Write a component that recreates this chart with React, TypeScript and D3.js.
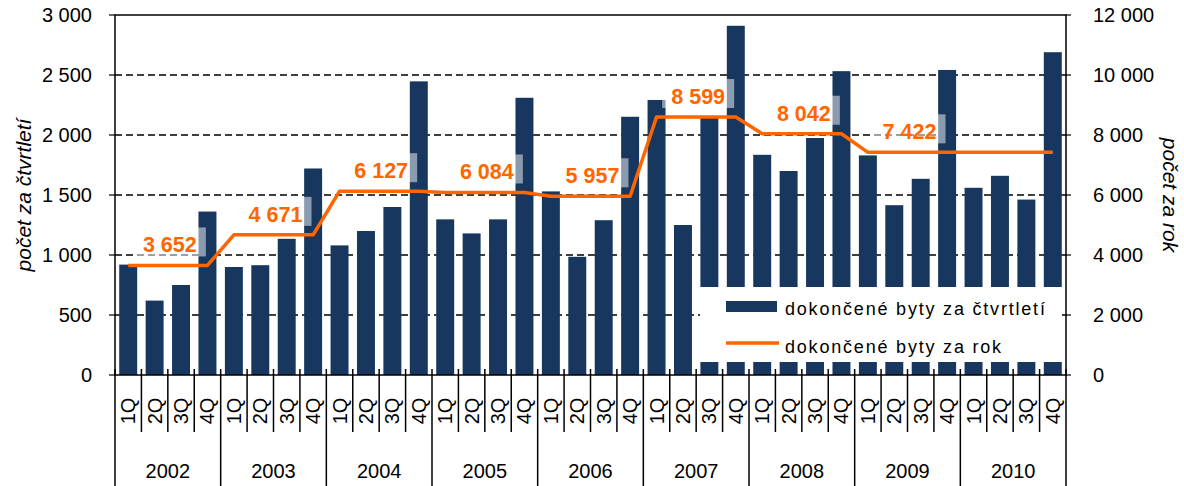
import React from "react";
import * as d3 from "d3";

const years = ["2002", "2003", "2004", "2005", "2006", "2007", "2008", "2009", "2010"];
const quarters = ["1Q", "2Q", "3Q", "4Q"];
const quarterly = [
  920, 620, 750, 1362,
  900, 915, 1135, 1721,
  1080, 1200, 1400, 2447,
  1297, 1180, 1297, 2310,
  1530, 985, 1290, 2152,
  2292, 1250, 2147, 2910,
  1835, 1700, 1975, 2532,
  1830, 1415, 1635, 2542,
  1560, 1660, 1462, 2690,
];
const annual = [3652, 4671, 6127, 6084, 5957, 8599, 8042, 7422, 7422];
const annualLabelShown = [true, true, true, true, true, true, true, true, false];
const leftTicks = [0, 500, 1000, 1500, 2000, 2500, 3000];
const rightTicks = [0, 2000, 4000, 6000, 8000, 10000, 12000];
const seriesNames = ["dokončené byty za čtvrtletí", "dokončené byty za rok"];
const axisTitles = ["počet za čtvrtletí", "počet za rok"];

const W = 1184;
const H = 486;
const L = 115;
const R = 1066;
const T = 15;
const B = 375;
const NAVY = "#17375E";
const ORANGE = "#FF6600";
const FONT = "'Liberation Sans', Arial, sans-serif";

const locale = d3.formatLocale({ decimal: ",", thousands: "\u00a0", grouping: [3], currency: ["", ""] });
const fmt = locale.format(",d");

export default function App() {
  const keys = years.flatMap((y) => quarters.map((q) => `${y}-${q}`));
  const x = d3.scaleBand<string>().domain(keys).range([L, R]).paddingInner(0.32).paddingOuter(0.16);
  const step = x.step();
  const bw = x.bandwidth();
  const yL = d3.scaleLinear().domain([0, 3000]).range([B, T]);
  const yR = d3.scaleLinear().domain([0, 12000]).range([B, T]);

  const linePts: [number, number][] = keys.map((k, i) => [
    (x(k) as number) + bw / 2,
    yR(annual[Math.floor(i / 4)]),
  ]);
  const line = d3.line()(linePts) as string;

  const sepX = (i: number) => L + i * step;

  return (
    <svg width={W} height={H} style={{ position: "absolute", left: 0, top: 0, background: "#fff" }} fontFamily={FONT}>
      {/* gridlines */}
      {leftTicks.slice(1, -1).map((t) => (
        <line key={t} x1={L} x2={R} y1={yL(t)} y2={yL(t)} stroke="#000" strokeWidth={1.6} strokeDasharray="7,4" />
      ))}
      {/* bars */}
      {keys.map((k, i) => (
        <rect key={k} x={x(k)} y={yL(quarterly[i])} width={bw} height={B - yL(quarterly[i])} fill={NAVY} />
      ))}
      {/* annual line */}
      <path d={line} fill="none" stroke={ORANGE} strokeWidth={3.5} strokeLinejoin="round" />
      {/* labels */}
      {years.map((yr, j) => {
        if (!annualLabelShown[j]) return null;
        const cx = sepX(j * 4 + 2) + 2;
        const base = yR(annual[j]) - 13;
        return (
          <g key={yr}>
            <rect x={cx - 36} y={base - 25} width={72} height={29} fill="#fff" fillOpacity={0.5} />
            <text x={cx} y={base} textAnchor="middle" fontSize={21.5} fontWeight="bold" fill={ORANGE}>
              {fmt(annual[j])}
            </text>
          </g>
        );
      })}
      {/* frame */}
      <rect x={L} y={T} width={R - L} height={B - T} fill="none" stroke="#000" strokeWidth={1.5} />
      {/* left ticks */}
      {leftTicks.map((t) => (
        <g key={t}>
          <line x1={L - 6} x2={L} y1={yL(t)} y2={yL(t)} stroke="#000" strokeWidth={1.2} />
          <text x={92} y={yL(t)} dy="0.36em" textAnchor="end" fontSize={20} fill="#000">
            {fmt(t)}
          </text>
        </g>
      ))}
      {/* right ticks */}
      {rightTicks.map((t) => (
        <g key={t}>
          <line x1={R} x2={R + 5} y1={yR(t)} y2={yR(t)} stroke="#000" strokeWidth={1.2} />
          <text x={1093} y={yR(t)} dy="0.36em" textAnchor="start" fontSize={20} fill="#000">
            {fmt(t)}
          </text>
        </g>
      ))}
      {/* category axis separators */}
      {d3.range(keys.length + 1).map((i) => (
        <line
          key={i}
          x1={sepX(i)}
          x2={sepX(i)}
          y1={B - 6}
          y2={i % 4 === 0 ? H : 432}
          stroke="#000"
          strokeWidth={1.5}
        />
      ))}
      {keys.map((k, i) => (
        <text
          key={k}
          transform={`translate(${(x(k) as number) + bw / 2 + 7},411) rotate(-90)`}
          textAnchor="middle"
          fontSize={20}
          fill="#000"
        >
          {quarters[i % 4]}
        </text>
      ))}
      {years.map((yr, j) => (
        <text key={yr} x={sepX(j * 4 + 2)} y={478} textAnchor="middle" fontSize={20} fill="#000">
          {yr}
        </text>
      ))}
      {/* axis titles */}
      <text transform={`translate(31,${(T + B) / 2}) rotate(-90)`} textAnchor="middle" fontSize={21} fontStyle="italic" fill="#000">
        {axisTitles[0]}
      </text>
      <text transform={`translate(1163,${(T + B) / 2}) rotate(90)`} textAnchor="middle" fontSize={21} fontStyle="italic" fill="#000">
        {axisTitles[1]}
      </text>
      {/* legend */}
      <rect x={700} y={287} width={362} height={75} fill="#fff" />
      <rect x={726} y={301} width={51} height={11} fill={NAVY} />
      <text x={785} y={315} fontSize={18} letterSpacing={1.8} fill="#000">
        {seriesNames[0]}
      </text>
      <line x1={726} x2={779} y1={343} y2={343} stroke={ORANGE} strokeWidth={3.5} />
      <text x={785} y={353} fontSize={18} letterSpacing={1.8} fill="#000">
        {seriesNames[1]}
      </text>
    </svg>
  );
}
